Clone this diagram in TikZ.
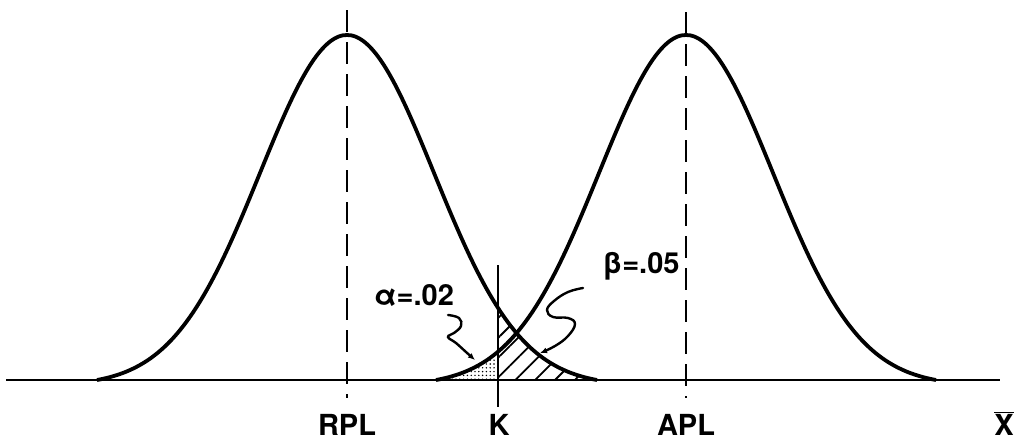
\documentclass[tikz,border=0pt]{standalone}
\usepackage{fontspec}
\setmainfont{TeX Gyre Heros}
\usetikzlibrary{patterns.meta,arrows.meta}
\begin{document}
\begin{tikzpicture}[x=1pt,y=-1pt,
  curve/.style={line width=3.8pt,line join=round},
  axis/.style={line width=2.8pt},
  guide/.style={line width=2.8pt,dash pattern=on 22pt off 10pt},
  kline/.style={line width=2.2pt},
  lab/.style={font=\fontsize{29}{31}\selectfont\bfseries,inner sep=0pt},
  leader/.style={line width=2.4pt,line cap=round},
  declare function={g(\d)=345*(exp(-0.5*(\d/87)^2)-0.0161)/(1-0.0161);}]
\useasboundingbox (0,0) rectangle (1017,440);
% shaded tails
\fill[pattern={Dots[distance=3.8pt,radius=0.8pt]}]
  plot[domain=-250:-188,samples=30] ({686+\x},{380-g(\x)}) -- (498,380) -- cycle;
\fill[pattern={Lines[angle=45,distance=14pt,line width=1.8pt]}]
  (498,380) -- plot[domain=151:250,samples=40] ({347+\x},{380-g(\x)}) -- cycle;
% axis
\coordinate (axl) at (6,380);
\coordinate (axr) at (1000,380);
\draw[axis] (axl) -- (axr);
% curves
\draw[curve] plot[smooth,domain=-250:250,samples=121] ({347+\x},{380-g(\x)});
\draw[curve] plot[smooth,domain=-250:250,samples=121] ({686+\x},{380-g(\x)});
% guide lines
\coordinate (rpltop) at (347,10);
\coordinate (rplbot) at (347,398);
\coordinate (apltop) at (686,12);
\coordinate (aplbot) at (686,398);
\coordinate (ktop) at (498,265);
\coordinate (kbot) at (498,407);
\draw[guide] (rpltop) -- (rplbot);
\draw[guide] (apltop) -- (aplbot);
\draw[kline] (ktop) -- (kbot);
% labels
\node[lab,anchor=base] (rpl) at (347,435) {RPL};
\node[lab,anchor=base] (k) at (499,435) {K};
\node[lab,anchor=base] (apl) at (686,435) {APL};
\node[lab,anchor=base] (xbar) at (1004,435) {$\overline{\mbox{X}}$};
\node[lab,anchor=base] (alpha) at (414,305) {α=.02};
\node[lab,anchor=base] (beta) at (641,273) {β=.05};
% leaders
\coordinate (aend) at (475,360);
\coordinate (bend) at (540,353);
\draw[leader,-{Latex[length=7pt,width=6pt]}] plot[smooth,tension=0.7] coordinates
  {(448,315) (459,318) (461,326) (454,333) (448,337) (456,343) (466,352) (475,360)};
\draw[leader,-{Latex[length=7pt,width=6pt]}] plot[smooth,tension=0.7] coordinates
  {(583,288) (568,292) (554,301) (547,310) (553,317) (568,318) (575,324) (568,336) (555,346) (540,353)};
\end{tikzpicture}
\end{document}
